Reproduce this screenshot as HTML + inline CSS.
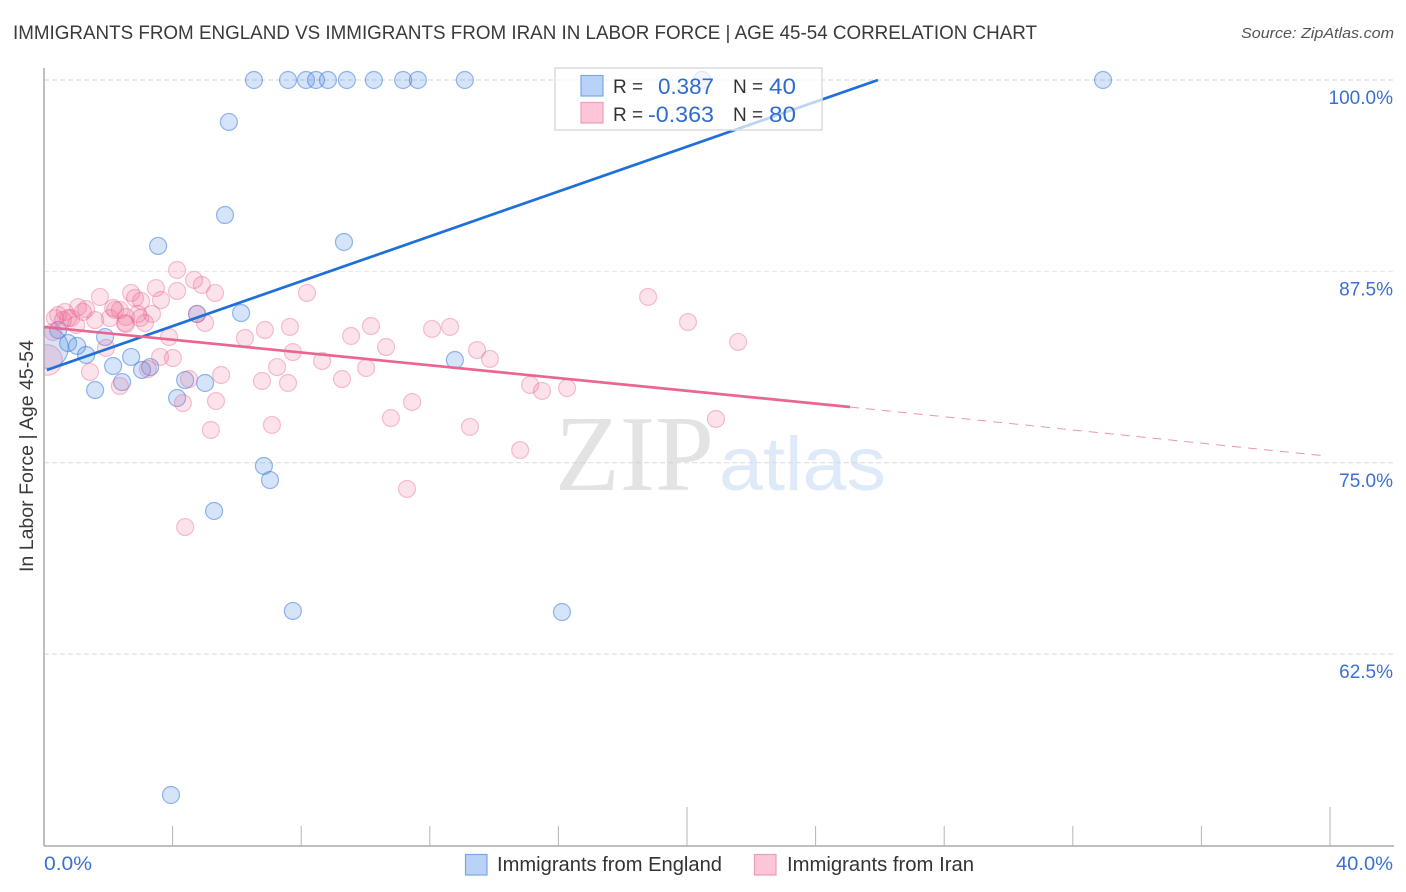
<!DOCTYPE html>
<html lang="en">
<head>
<meta charset="utf-8">
<title>Immigrants from England vs Immigrants from Iran in Labor Force | Age 45-54 Correlation Chart</title>
<style>
html,body{margin:0;padding:0;background:#fff;}
svg{display:block;font-family:"Liberation Sans",sans-serif;}
</style>
</head>
<body>
<svg id="chart" xmlns="http://www.w3.org/2000/svg" width="1406" height="892" viewBox="0 0 1406 892">
  <rect x="0" y="0" width="1406" height="892" fill="#fff"/>

  <g id="grid"></g>
  <g>
    <text x="555" y="490" font-family="'Liberation Serif',serif" font-size="108" fill="#c8c8c8" fill-opacity="0.5" textLength="159" lengthAdjust="spacingAndGlyphs">ZIP</text>
    <text x="719" y="490" font-size="76" fill="#c4d8f4" fill-opacity="0.55" textLength="167" lengthAdjust="spacingAndGlyphs">atlas</text>
  </g>
  <g id="points"></g>
  <rect x="0" y="60" width="43.3" height="786" fill="#fff"/>
  <g id="axes"></g>
  <g id="trends"></g>

  <text x="13" y="39" font-size="19" fill="#3a3a3a" textLength="1024" lengthAdjust="spacingAndGlyphs">IMMIGRANTS FROM ENGLAND VS IMMIGRANTS FROM IRAN IN LABOR FORCE | AGE 45-54 CORRELATION CHART</text>
  <text x="1241" y="38" font-size="15" font-style="italic" fill="#555" textLength="153" lengthAdjust="spacingAndGlyphs">Source: ZipAtlas.com</text>
  <text transform="translate(33,572) rotate(-90)" font-size="19" fill="#3a3a3a" textLength="232" lengthAdjust="spacingAndGlyphs">In Labor Force | Age 45-54</text>

  <g>
    <rect x="555" y="68" width="267" height="62" fill="#fff" fill-opacity="0.7" stroke="#dcdcdc" stroke-width="1.5"/>
    <rect x="581" y="75.5" width="22" height="20.5" fill="#b8d3f7" stroke="#7ba6e4" stroke-width="1.2"/>
    <rect x="581" y="102.5" width="22" height="20.5" fill="#fcc6d8" stroke="#eb9db9" stroke-width="1.2"/>
    <text x="613" y="93" font-size="19" fill="#333">R =</text>
    <text x="658" y="94" font-size="22" fill="#2f6bd0" textLength="56" lengthAdjust="spacingAndGlyphs">0.387</text>
    <text x="733" y="93" font-size="19" fill="#333">N =</text>
    <text x="769" y="94" font-size="22" fill="#2f6bd0" textLength="27" lengthAdjust="spacingAndGlyphs">40</text>
    <text x="613" y="121" font-size="19" fill="#333">R =</text>
    <text x="648" y="122" font-size="22" fill="#2f6bd0" textLength="66" lengthAdjust="spacingAndGlyphs">-0.363</text>
    <text x="733" y="121" font-size="19" fill="#333">N =</text>
    <text x="769" y="122" font-size="22" fill="#2f6bd0" textLength="27" lengthAdjust="spacingAndGlyphs">80</text>
  </g>

  <g>
    <rect x="465.5" y="854.5" width="21.5" height="20.5" fill="#b8d3f7" stroke="#7ba6e4" stroke-width="1.2"/>
    <text x="497" y="871" font-size="20" fill="#333" textLength="225" lengthAdjust="spacingAndGlyphs">Immigrants from England</text>
    <rect x="754.5" y="854.5" width="21.5" height="20.5" fill="#fcc6d8" stroke="#eb9db9" stroke-width="1.2"/>
    <text x="787" y="871" font-size="20" fill="#333" textLength="187" lengthAdjust="spacingAndGlyphs">Immigrants from Iran</text>
  </g>
</svg>
<script>
const yTicks = [100, 87.5, 75, 62.5];
const yTickLabels = ["100.0%", "87.5%", "75.0%", "62.5%"];
const xTicks = [4, 8, 12, 16, 20, 24, 28, 32, 36, 40];
const xMajorTicks = [20, 40];
const xEndValues = [0, 40];
const xEndLabels = ["0.0%", "40.0%"];

const englandX = [6.53,7.59,8.15,8.46,8.83,9.42,10.26,11.17,11.63,13.09,32.94,20.47,5.75,5.63,3.55,9.33,6.13,4.76,12.78,1.90,0.75,0.44,1.03,1.31,2.71,2.15,3.30,3.05,2.43,1.59,4.39,5.01,4.14,6.84,7.03,5.29,7.74,16.11,3.95,0.12];
const englandY = [100,100,100,100,100,100,100,100,100,100,100,100,97.26,91.18,89.16,89.42,84.78,84.72,81.71,83.21,82.82,83.67,82.63,82.04,81.91,81.32,81.25,81.06,80.27,79.75,80.40,80.21,79.23,74.79,73.87,71.85,65.32,65.25,53.30,82.5];
const englandSize = [1,1,1,1,1,1,1,1,1,1,1,1,1,1,1,1,1,1,1,1,1,1,1,1,1,1,1,1,1,1,1,1,1,1,1,1,1,1,1,2.4];

const iranX = [0.28,0.34,0.44,0.59,0.65,0.75,0.84,1.0,1.06,1.31,1.21,1.59,1.74,2.15,2.21,2.05,2.52,2.55,2.36,2.71,2.83,3.02,3.48,3.64,4.14,4.14,4.67,4.91,5.32,3.36,2.99,3.14,2.92,2.55,3.89,1.93,1.43,2.36,3.61,4.01,3.23,6.25,6.87,7.65,8.18,7.74,7.25,6.78,7.59,5.51,4.51,4.32,5.35,5.19,7.09,4.39,10.17,9.55,12.07,12.63,10.64,13.47,13.87,8.65,10.02,9.27,15.12,15.49,16.27,11.45,10.79,13.25,14.81,11.29,18.79,20.03,21.59,20.90,4.76,5.01,0.09];
const iranY = [83.54,84.45,84.65,84.32,84.85,84.45,84.45,84.0,85.17,85.04,84.85,84.32,85.83,85.11,84.98,84.45,84.13,84.52,84.98,86.09,85.76,85.57,86.41,85.63,87.59,86.22,86.94,86.61,86.09,84.72,84.45,84.13,84.72,84.06,83.21,82.5,80.93,80.01,81.91,81.84,81.12,83.15,83.67,83.87,86.09,82.23,81.25,80.34,80.21,80.73,80.47,78.9,79.03,77.14,77.47,70.8,83.93,83.28,83.74,83.87,82.56,82.36,81.78,81.65,81.19,80.47,80.08,79.69,79.88,78.97,77.92,77.34,75.83,73.29,85.83,84.19,82.89,77.86,84.72,84.13,81.71];
const iranSize = [1,1,1,1,1,1,1,1,1,1,1,1,1,1,1,1,1,1,1,1,1,1,1,1,1,1,1,1,1,1,1,1,1,1,1,1,1,1,1,1,1,1,1,1,1,1,1,1,1,1,1,1,1,1,1,1,1,1,1,1,1,1,1,1,1,1,1,1,1,1,1,1,1,1,1,1,1,1,1,1,1.8];

const englandTrendX = [0.09, 25.94];
const englandTrendY = [81.06, 100];
const iranTrendX = [0, 25.07];
const iranTrendY = [83.87, 78.64];
const iranDashX = [25.07, 39.88];
const iranDashY = [78.64, 75.44];

const NS = "http://www.w3.org/2000/svg";
const xScale = v => 44 + v * 32.15;
const yScale = v => 80 + (100 - v) * 15.31;

function mk(parent, tag, attrs, text) {
  const el = document.createElementNS(NS, tag);
  for (const k in attrs) el.setAttribute(k, attrs[k]);
  if (text !== undefined) el.textContent = text;
  parent.appendChild(el);
  return el;
}

const grid = document.getElementById("grid");
const axes = document.getElementById("axes");
const pointsG = document.getElementById("points");
const trends = document.getElementById("trends");

const gridColors = ["#d4d4d4", "#e8e8e8", "#dcdcdc", "#d8d8d8"];
yTicks.forEach((t, i) => {
  const line = mk(grid, "line", {x1: 44, x2: 1394, y1: yScale(t), y2: yScale(t), stroke: gridColors[i], "stroke-width": 1, "stroke-dasharray": "5 3"});
  
  
  const label = mk(axes, "text", {x: 1393, y: yScale(t) + 24, "text-anchor": "end", "font-size": 19, fill: "#3a70d2"}, yTickLabels[i]);
  
  
});

const yAxis = mk(axes, "line", {x1: 44, x2: 44, y1: 68, y2: 846, stroke: "#aaa", "stroke-width": 1.5});


const xAxis = mk(axes, "line", {x1: 44, x2: 1394, y1: 846, y2: 846, stroke: "#aaa", "stroke-width": 1.5});



xTicks.forEach(t => {
  const top = xMajorTicks.includes(t) ? 807 : 826;
  const tick = mk(axes, "line", {x1: xScale(t), x2: xScale(t), y1: top, y2: 846, stroke: "#b5b5b5", "stroke-width": 1});
  
  
});

xEndValues.forEach((v, i) => {
  const label = mk(axes, "text", {x: i === 0 ? 44 : xScale(v) + 6, y: 870, "font-size": 19, fill: "#3a70d2", textLength: i === 0 ? 48 : 57, lengthAdjust: "spacingAndGlyphs"}, xEndLabels[i]);
  
  
});

englandX.forEach((v, i) => {
  const c = mk(pointsG, "circle", {cx: xScale(v), cy: yScale(englandY[i]), r: 8.5 * englandSize[i], fill: "rgba(79,143,227,0.24)", stroke: "rgba(50,115,220,0.5)", "stroke-width": 1.2});
  
  
});
iranX.forEach((v, i) => {
  const c = mk(pointsG, "circle", {cx: xScale(v), cy: yScale(iranY[i]), r: 8.5 * iranSize[i], fill: "rgba(239,111,151,0.2)", stroke: "rgba(230,100,145,0.38)", "stroke-width": 1.2});
  
  
});

const blueTrend = mk(trends, "line", {x1: xScale(englandTrendX[0]), y1: yScale(englandTrendY[0]), x2: xScale(englandTrendX[1]), y2: yScale(englandTrendY[1]), stroke: "#1f6fd8", "stroke-width": 2.7});


const pinkTrend = mk(trends, "line", {x1: xScale(iranTrendX[0]), y1: yScale(iranTrendY[0]), x2: xScale(iranTrendX[1]), y2: yScale(iranTrendY[1]), stroke: "#ea6594", "stroke-width": 2.7});


const pinkDash = mk(trends, "line", {x1: xScale(iranDashX[0]), y1: yScale(iranDashY[0]), x2: xScale(iranDashX[1]), y2: yScale(iranDashY[1]), stroke: "#ea6594", "stroke-opacity": 0.7, "stroke-width": 1, "stroke-dasharray": "9 7"});


</script>
</body>
</html>
